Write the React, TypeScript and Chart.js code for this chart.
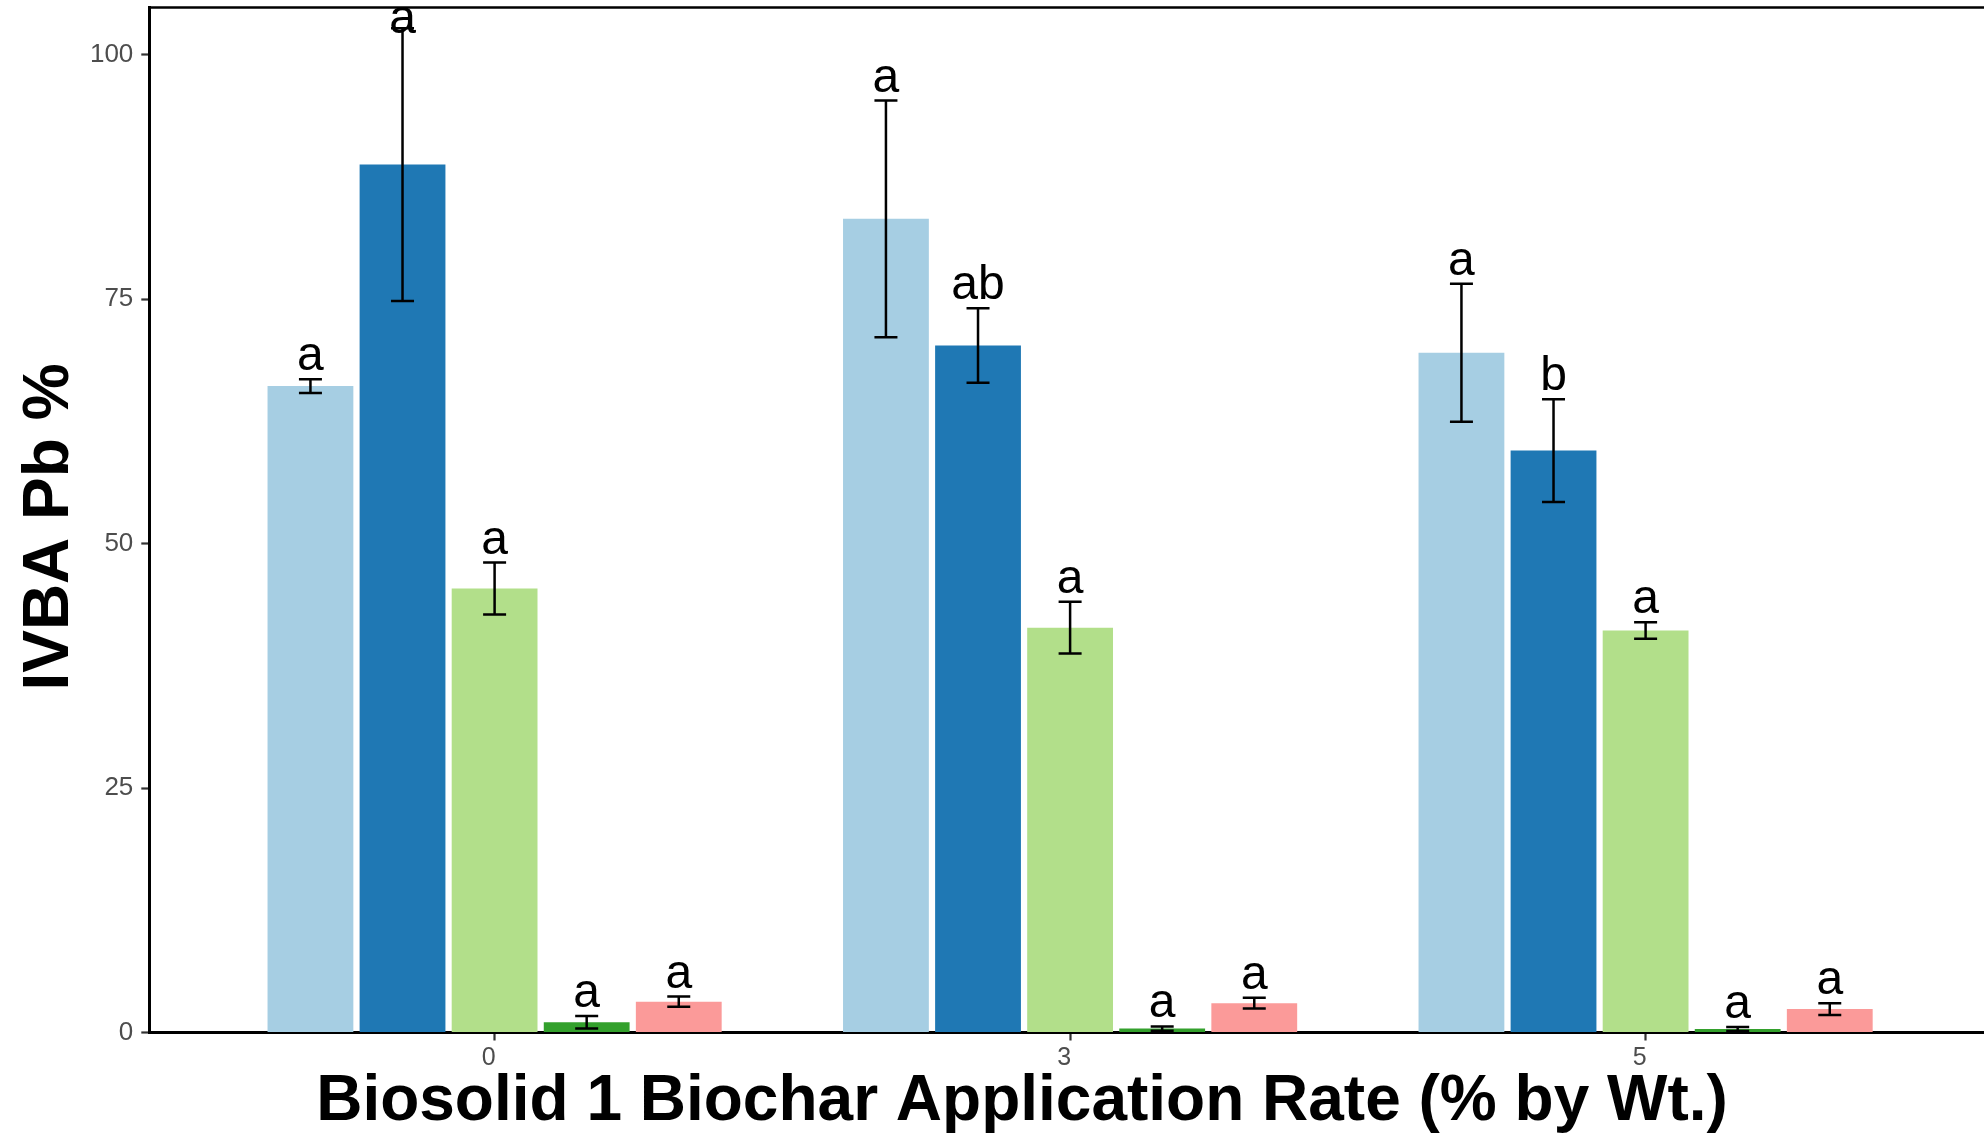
import React, { useEffect, useRef } from "react";
import { Chart, registerables } from "chart.js";

Chart.register(...registerables);

// Biochar application rates (% by weight) and their positions on the x axis
const applicationRates = ["0", "3", "5"];
const ratePositions = [1, 2, 3];

// Mean IVBA Pb % for each treatment series at 0, 3 and 5 % biochar
const treatment1Mean = [66.1, 83.2, 69.5];
const treatment2Mean = [88.75, 70.25, 59.5];
const treatment3Mean = [45.4, 41.4, 41.1];
const treatment4Mean = [1.05, 0.4, 0.35];
const treatment5Mean = [3.15, 3.0, 2.4];

// Standard deviations used for the error bars
const treatment1Sd = [0.7, 12.1, 7.05];
const treatment2Sd = [13.95, 3.8, 5.25];
const treatment3Sd = [2.65, 2.65, 0.85];
const treatment4Sd = [0.63, 0.22, 0.2];
const treatment5Sd = [0.52, 0.55, 0.6];

// Significance letters printed above each bar
const treatment1Letters = ["a", "a", "a"];
const treatment2Letters = ["a", "ab", "b"];
const treatment3Letters = ["a", "a", "a"];
const treatment4Letters = ["a", "a", "a"];
const treatment5Letters = ["a", "a", "a"];

const seriesNames = ["Treatment 1", "Treatment 2", "Treatment 3", "Treatment 4", "Treatment 5"];
const seriesColors = ["#A6CEE3", "#1F78B4", "#B2DF8A", "#33A02C", "#FB9A99"];
const seriesMeans = [treatment1Mean, treatment2Mean, treatment3Mean, treatment4Mean, treatment5Mean];
const seriesSds = [treatment1Sd, treatment2Sd, treatment3Sd, treatment4Sd, treatment5Sd];
const seriesLetters = [treatment1Letters, treatment2Letters, treatment3Letters, treatment4Letters, treatment5Letters];

const yTickValues = [0, 25, 50, 75, 100];
const yAxisMax = 104.8;
const xAxisMin = 0.4;
const xAxisMax = 3.588;

const xTitle = "Biosolid 1 Biochar Application Rate (% by Wt.)";
const yTitle = "IVBA Pb %";

const FONT = "'Liberation Sans', Arial, Helvetica, sans-serif";
const WIDTH = 1984;
const HEIGHT = 1134;

// Error bars with caps, plus the letter above each bar
const errorBarPlugin = {
  id: "errorBars",
  afterDatasetsDraw(chart: any) {
    const ctx = chart.ctx;
    const yScale = chart.scales.y;
    const capHalf = 11.5;
    ctx.save();
    chart.data.datasets.forEach((ds: any, d: number) => {
      const meta = chart.getDatasetMeta(d);
      meta.data.forEach((bar: any, i: number) => {
        const mean = ds.means[i];
        const sd = ds.sds[i];
        const x = bar.x;
        const top = yScale.getPixelForValue(mean + sd);
        const bottom = yScale.getPixelForValue(Math.max(mean - sd, 0));
        ctx.strokeStyle = "#000000";
        ctx.lineWidth = 2.5;
        ctx.beginPath();
        ctx.moveTo(x, top);
        ctx.lineTo(x, bottom);
        ctx.moveTo(x - capHalf, top);
        ctx.lineTo(x + capHalf, top);
        ctx.moveTo(x - capHalf, bottom);
        ctx.lineTo(x + capHalf, bottom);
        ctx.stroke();

        ctx.font = `48px ${FONT}`;
        ctx.fillStyle = "#000000";
        ctx.textAlign = "center";
        ctx.textBaseline = "alphabetic";
        const baseline = Math.max(top - 9, chart.chartArea.top + 25);
        ctx.fillText(ds.letters[i], x, baseline);
      });
    });
    ctx.restore();
  },
};

// Axis titles and the top panel line
const framePlugin = {
  id: "frame",
  afterDraw(chart: any) {
    const ctx = chart.ctx;
    const area = chart.chartArea;
    ctx.save();
    ctx.strokeStyle = "#000000";
    ctx.lineWidth = 2.5;
    ctx.beginPath();
    ctx.moveTo(area.left, area.top);
    ctx.lineTo(area.right, area.top);
    ctx.stroke();

    ctx.fillStyle = "#000000";
    ctx.font = `bold 64px ${FONT}`;
    ctx.textAlign = "center";
    ctx.textBaseline = "alphabetic";
    ctx.fillText(xTitle, 1022, 1120);

    ctx.translate(68, 527);
    ctx.rotate(-Math.PI / 2);
    ctx.fillText(yTitle, 0, 0);
    ctx.restore();
  },
};

export default function App() {
  const canvasRef = useRef<HTMLCanvasElement | null>(null);

  useEffect(() => {
    if (!canvasRef.current) return;
    const datasets = seriesNames.map((name, d) => ({
      label: name,
      data: seriesMeans[d].map((v, i) => ({ x: ratePositions[i], y: v })),
      backgroundColor: seriesColors[d],
      borderWidth: 0,
      categoryPercentage: 0.8,
      barPercentage: 0.932,
      means: seriesMeans[d],
      sds: seriesSds[d],
      letters: seriesLetters[d],
    }));

    const chart = new Chart(canvasRef.current, {
      type: "bar",
      data: { datasets } as any,
      options: {
        animation: false,
        responsive: false,
        maintainAspectRatio: false,
        layout: { padding: { top: 7.6, left: 0, right: 0, bottom: 0 } },
        plugins: {
          legend: { display: false },
          tooltip: { enabled: false },
        },
        scales: {
          x: {
            type: "linear",
            min: xAxisMin,
            max: xAxisMax,
            offset: false,
            grid: {
              offset: false,
              drawOnChartArea: false,
              drawTicks: true,
              tickLength: 8,
              tickColor: "#333333",
              tickWidth: 2.2,
            },
            border: { display: true, color: "#000000", width: 3 },
            ticks: {
              autoSkip: false,
              maxRotation: 0,
              minRotation: 0,
              padding: 3,
              labelOffset: -6,
              color: "#4D4D4D",
              font: { family: FONT, size: 25 },
              callback: (value: any) => {
                const idx = ratePositions.indexOf(Number(value));
                return idx >= 0 ? applicationRates[idx] : "";
              },
            },
            afterBuildTicks: (scale: any) => {
              scale.ticks = ratePositions.map((v) => ({ value: v }));
            },
            afterFit: (scale: any) => {
              scale.height = 101.5;
              scale.paddingLeft = 0;
              scale.paddingRight = 0;
              scale.paddingTop = 0;
              scale.paddingBottom = 0;
            },
          } as any,
          y: {
            type: "linear",
            min: 0,
            max: yAxisMax,
            grid: {
              drawOnChartArea: false,
              drawTicks: true,
              tickLength: 8,
              tickColor: "#333333",
              tickWidth: 2.2,
            },
            border: { display: true, color: "#000000", width: 3 },
            ticks: {
              padding: 8,
              color: "#4D4D4D",
              font: { family: FONT, size: 26 },
            },
            afterBuildTicks: (scale: any) => {
              scale.ticks = yTickValues.map((v) => ({ value: v }));
            },
            afterFit: (scale: any) => {
              scale.width = 149.3;
              scale.paddingLeft = 0;
              scale.paddingRight = 0;
              scale.paddingTop = 0;
              scale.paddingBottom = 0;
            },
          } as any,
        },
      },
      plugins: [errorBarPlugin, framePlugin],
    } as any);

    return () => chart.destroy();
  }, []);

  return (
    <div
      style={{
        position: "fixed",
        left: 0,
        top: 0,
        width: WIDTH,
        height: HEIGHT,
        overflow: "hidden",
        background: "#ffffff",
      }}
    >
      <canvas ref={canvasRef} width={WIDTH} height={HEIGHT} style={{ width: WIDTH, height: HEIGHT, display: "block" }} />
    </div>
  );
}
